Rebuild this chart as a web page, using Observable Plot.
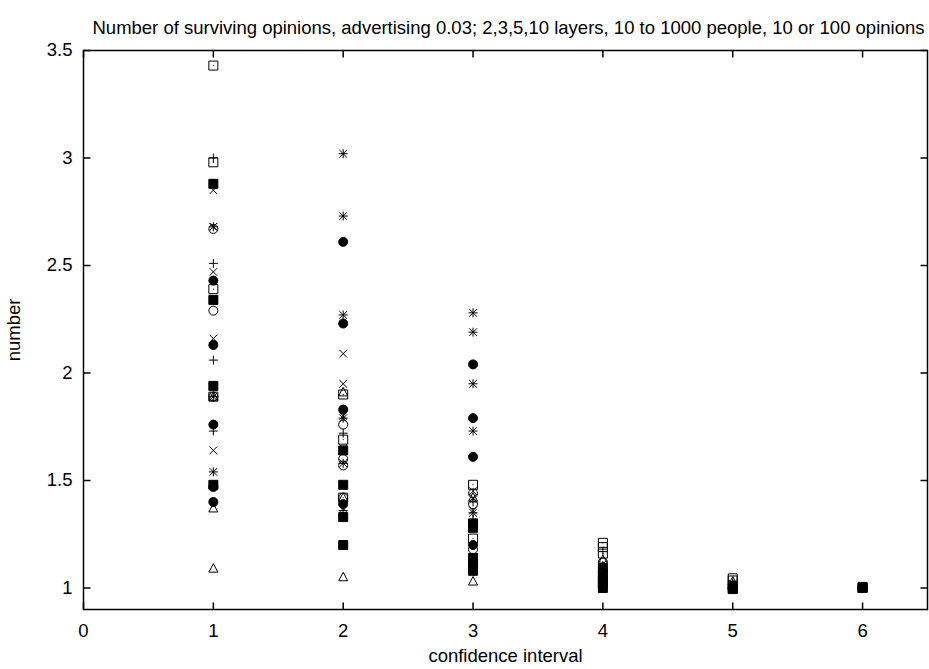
<!DOCTYPE html>
<html><head><meta charset="utf-8">
<script src="https://cdn.jsdelivr.net/npm/d3@7"></script>
<script src="https://cdn.jsdelivr.net/npm/@observablehq/plot@0.6"></script>
<style>body{margin:0;background:#fff} svg{display:block}</style>
</head><body><div id="chart"></div>
<script>
const title = "Number of surviving opinions, advertising 0.03; 2,3,5,10 layers, 10 to 1000 people, 10 or 100 opinions";
const xLabel = "confidence interval";
const yLabel = "number";
const xTicks = [0, 1, 2, 3, 4, 5, 6];
const yTicks = [1, 1.5, 2, 2.5, 3, 3.5];

// [confidence interval, number] per point type
const plusPts = [[1,3.00],[1,2.51],[1,2.06],[1,1.73],[2,1.72],[2,1.36],[3,1.32],[3,1.40],[4,1.17],[4,1.05],[5,1.02],[6,1.00]];
const crossPts = [[1,2.85],[1,2.68],[1,2.47],[1,2.16],[1,1.64],[2,2.09],[2,1.95],[2,1.80],[2,1.65],[2,1.37],[3,1.45],[3,1.42],[3,1.36],[4,1.11],[4,1.06],[5,1.01],[6,1.00]];
const starPts = [[1,2.68],[1,1.54],[1,1.89],[2,3.02],[2,2.73],[2,2.27],[2,1.79],[2,1.58],[3,2.28],[3,2.19],[3,1.95],[3,1.73],[3,1.35],[4,1.10],[4,1.04],[5,1.02],[6,1.00]];
const boxPts = [[1,3.43],[1,2.98],[1,2.39],[1,1.89],[2,1.90],[2,1.69],[2,1.42],[3,1.48],[3,1.23],[4,1.21],[4,1.19],[4,1.16],[5,1.045],[5,1.035],[6,1.00]];
const fboxPts = [[1,2.88],[1,2.34],[1,1.94],[1,1.48],[2,1.64],[2,1.48],[2,1.33],[2,1.20],[3,1.30],[3,1.28],[3,1.14],[3,1.11],[3,1.08],[4,1.09],[4,1.06],[4,1.04],[4,1.02],[4,1.00],[5,1.01],[5,1.00],[5,0.995],[6,1.00],[6,1.005]];
const circPts = [[1,2.67],[1,2.29],[1,1.89],[2,1.76],[2,1.60],[2,1.57],[2,1.42],[3,1.44],[3,1.39],[3,1.18],[4,1.12],[4,1.03],[5,1.00],[6,1.00]];
const fcircPts = [[1,2.43],[1,2.13],[1,1.76],[1,1.47],[1,1.40],[2,2.61],[2,2.23],[2,1.83],[2,1.39],[3,2.04],[3,1.79],[3,1.61],[3,1.20],[4,1.05],[5,1.00],[6,1.00]];
const triPts = [[1,1.89],[1,1.37],[1,1.09],[2,1.91],[2,1.42],[2,1.05],[3,1.42],[3,1.30],[3,1.03],[4,1.13],[4,1.10],[5,1.03],[6,1.00]];

const S = 4.5;
const symPlus = {draw(c){c.moveTo(-S,0);c.lineTo(S,0);c.moveTo(0,-S);c.lineTo(0,S);}};
const symCross = {draw(c){const k=S*0.85;c.moveTo(-k,-k);c.lineTo(k,k);c.moveTo(-k,k);c.lineTo(k,-k);}};
const symStar = {draw(c){const k=S*0.85;c.moveTo(-S,0);c.lineTo(S,0);c.moveTo(0,-S);c.lineTo(0,S);c.moveTo(-k,-k);c.lineTo(k,k);c.moveTo(-k,k);c.lineTo(k,-k);}};
const symBox = {draw(c){c.rect(-S,-S,2*S,2*S);c.moveTo(0,-0.5);c.lineTo(0,0.5);}};
const symFBox = {draw(c){c.rect(-S,-S,2*S,2*S);}};
const symCirc = {draw(c){c.moveTo(S,0);c.arc(0,0,S,0,2*Math.PI);}};
const symTri = {draw(c){c.moveTo(0,-S-0.5);c.lineTo(S,S-1);c.lineTo(-S,S-1);c.closePath();}};
const tickUp = {draw(c){c.moveTo(0,0);c.lineTo(0,-7);}};
const tickDown = {draw(c){c.moveTo(0,0);c.lineTo(0,7);}};
const tickRight = {draw(c){c.moveTo(0,0);c.lineTo(7,0);}};
const tickLeft = {draw(c){c.moveTo(0,0);c.lineTo(-7,0);}};

const series = [
  [plusPts, symPlus, false],
  [crossPts, symCross, false],
  [starPts, symStar, false],
  [boxPts, symBox, false],
  [fboxPts, symFBox, true],
  [circPts, symCirc, false],
  [fcircPts, symCirc, true],
  [triPts, symTri, false]
];

const pointMarks = series.map(([pts, sym, filled]) =>
  Plot.dot(pts, {x: d => d[0], y: d => d[1], symbol: sym, r: 4, fill: filled ? "black" : "none", stroke: "black", strokeWidth: 1})
);

const chart = Plot.plot({
  width: 929, height: 669,
  marginLeft: 83, marginRight: 2, marginTop: 50, marginBottom: 60,
  x: {domain: [0, 6.5], axis: null},
  y: {domain: [0.9, 3.5], axis: null},
  style: {fontFamily: "'Liberation Sans', Arial, sans-serif", fontSize: "18.5px", color: "black", background: "white"},
  marks: [
    Plot.dot(xTicks, {x: d => d, frameAnchor: "bottom", symbol: tickUp, stroke: "black", r: 1}),
    Plot.dot(xTicks, {x: d => d, frameAnchor: "top", symbol: tickDown, stroke: "black", r: 1}),
    Plot.dot(yTicks, {y: d => d, frameAnchor: "left", symbol: tickRight, stroke: "black", r: 1}),
    Plot.dot(yTicks, {y: d => d, frameAnchor: "right", symbol: tickLeft, stroke: "black", r: 1}),
    Plot.text(xTicks, {x: d => d, frameAnchor: "bottom", lineAnchor: "middle", dy: 22, text: d => String(d), fill: "black"}),
    Plot.text(yTicks, {y: d => d, frameAnchor: "left", lineAnchor: "middle", dx: -11, textAnchor: "end", text: d => String(d), fill: "black"}),
    Plot.text([xLabel], {frameAnchor: "bottom", lineAnchor: "middle", dy: 47, text: d => d, fill: "black"}),
    Plot.text([yLabel], {frameAnchor: "left", lineAnchor: "middle", textAnchor: "middle", dx: -69, rotate: -90, text: d => d, fill: "black"}),
    Plot.text([title], {frameAnchor: "top-right", lineAnchor: "middle", dx: -3, dy: -22, textAnchor: "end", text: d => d, fill: "black"}),
    ...pointMarks,
    Plot.frame({stroke: "black", strokeWidth: 1.5})
  ]
});
document.getElementById("chart").appendChild(chart);
</script>
</body></html>
